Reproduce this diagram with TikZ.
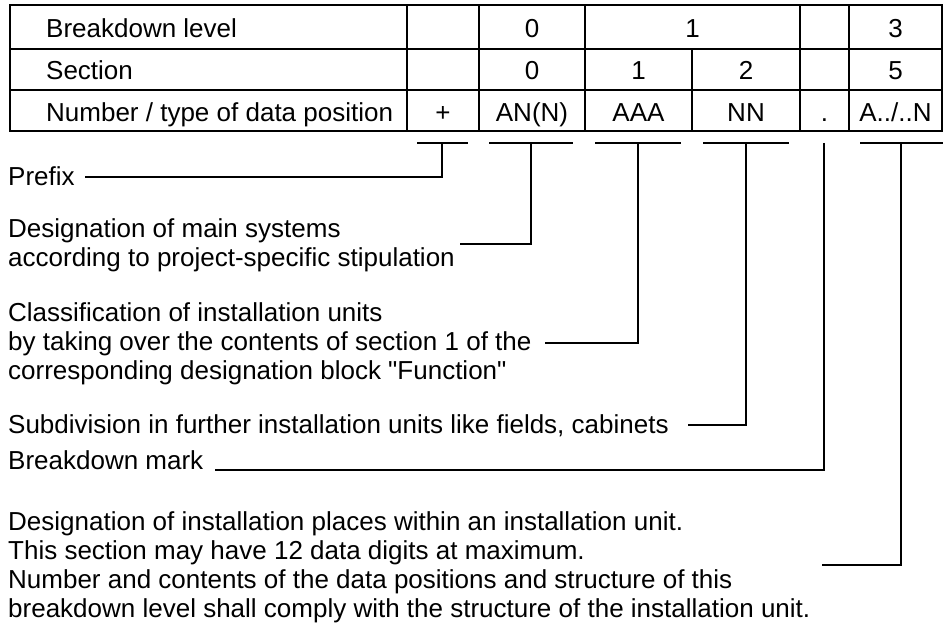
\documentclass[tikz,border=0pt]{standalone}
\usepackage{fontspec}
\setmainfont{Liberation Sans}
\newfontfamily\plainsans{Liberation Sans}% no TeX quote mapping
\newcommand\bodyfont{\fontsize{26}{29}\selectfont}
\newcommand\sq{{\plainsans\char34}}% straight double quote
\begin{document}
\begin{tikzpicture}[x=1pt,y=-1pt,
  gridline/.style={line width=2pt, line cap=rect},
  conn/.style={line width=1.3pt},
  cell/.style={inner sep=0pt, text height=21pt, text depth=0pt, font=\bodyfont},
  txt/.style={inner sep=0pt, anchor=base west, font=\bodyfont}]
\useasboundingbox (0,0) rectangle (944,628);

% ---- code table ----
\draw[gridline] (10,5) rectangle (942,131.5);
\draw[gridline] (10,49) -- (942,49) (10,90) -- (942,90);
\foreach \x in {407,479,585,800,849} \draw[gridline] (\x,5) -- (\x,131.5);
\draw[gridline] (692,49) -- (692,131.5);

\node[cell, anchor=west] (lvl) at (46,27)   {Breakdown level};
\node[cell, anchor=west] (sec) at (46,69.5) {Section};
\node[cell, anchor=west] (num) at (46,111)  {Number / type of data position};

\node[cell] (l0) at (532,27)   {0};
\node[cell] (l1) at (692.5,27) {1};
\node[cell] (l3) at (895.5,27) {3};

\node[cell] (s0) at (532,69.5)   {0};
\node[cell] (s1) at (638.5,69.5) {1};
\node[cell] (s2) at (746,69.5)   {2};
\node[cell] (s5) at (895.5,69.5) {5};

\node[cell] (dplus) at (443,111)   {+};
\node[cell] (dan)   at (532,111)   {AN(N)};
\node[cell] (daaa)  at (638.5,111) {AAA};
\node[cell] (dnn)   at (746,111)   {NN};
\node[cell] (ddot)  at (824.5,111) {.};
\node[cell] (dlast) at (895.5,111) {A../..N};

% ---- explanations ----
\node[txt] (prefix) at (8,186) {Prefix};
\node[txt] (main1)  at (8,237) {Designation of main systems};
\node[txt] (main2)  at (8,266) {according to project-specific stipulation};
\node[txt] (cls1)   at (8,321) {Classification of installation units};
\node[txt] (cls2)   at (8,350) {by taking over the contents of section 1 of the};
\node[txt] (cls3)   at (8,379) {corresponding designation block \sq Function\sq};
\node[txt] (subdiv) at (8,433) {Subdivision in further installation units like fields, cabinets};
\node[txt] (bmark)  at (8,469) {Breakdown mark};
\node[txt] (plc1)   at (8,530.5) {Designation of installation places within an installation unit.};
\node[txt] (plc2)   at (8,559.5) {This section may have 12 data digits at maximum.};
\node[txt] (plc3)   at (8,588.5) {Number and contents of the data positions and structure of this};
\node[txt] (plc4)   at (8,617.5) {breakdown level shall comply with the structure of the installation unit.};

% ---- brackets under the data positions ----
\coordinate (barPl) at (417,143); \coordinate (barPr) at (468,143); \coordinate (barP) at (442,143);
\coordinate (barMl) at (489,143); \coordinate (barMr) at (573,143); \coordinate (barM) at (531,143);
\coordinate (barCl) at (595,143); \coordinate (barCr) at (681,143); \coordinate (barC) at (638,143);
\coordinate (barSl) at (703,143); \coordinate (barSr) at (789,143); \coordinate (barS) at (746,143);
\coordinate (barD) at (824,143);
\coordinate (barLl) at (860,143); \coordinate (barLr) at (943,143); \coordinate (barL) at (901,143);

\foreach \b in {P,M,C,S,L} \draw[conn] (bar\b l) -- (bar\b r);

% ---- leader ends beside the texts ----
\coordinate (endP) at (85,177);
\coordinate (endM) at (460,244);
\coordinate (endC) at (545,343);
\coordinate (endS) at (688,425);
\coordinate (endD) at (215,470);
\coordinate (endL) at (822,565);

\draw[conn] (barP) |- (endP);
\draw[conn] (barM) |- (endM);
\draw[conn] (barC) |- (endC);
\draw[conn] (barS) |- (endS);
\draw[conn] (barD) |- (endD);
\draw[conn] (barL) |- (endL);
\end{tikzpicture}
\end{document}
